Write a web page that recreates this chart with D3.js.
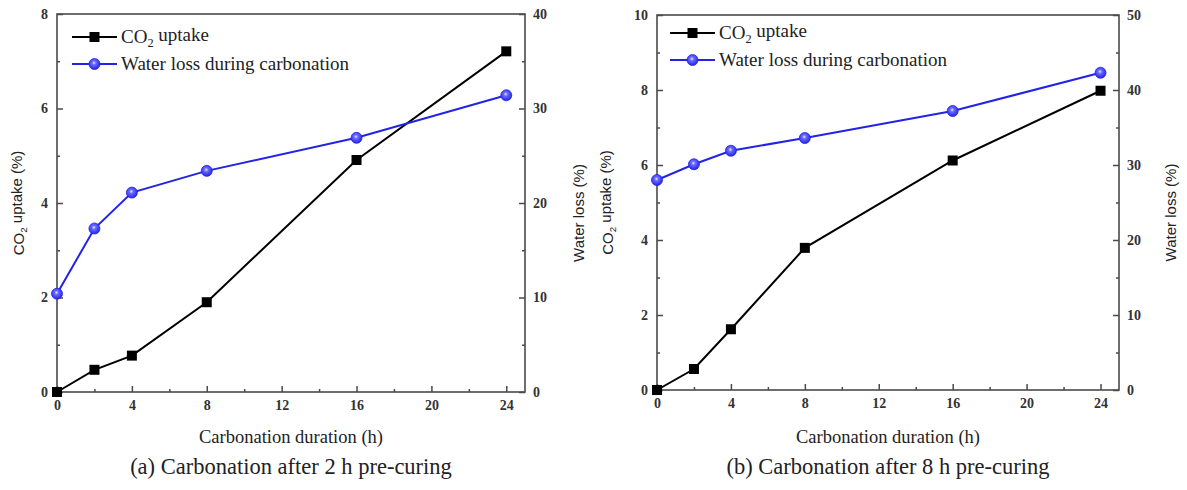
<!DOCTYPE html>
<html>
<head>
<meta charset="utf-8">
<script src="https://cdn.jsdelivr.net/npm/d3@7"></script>
<style>
  html, body { margin: 0; padding: 0; background: #fff; }
  svg { display: block; }
</style>
</head>
<body>
<svg id="chart" width="1187" height="490"></svg>
<script>
// ---------- data ----------
const hours = [0, 2, 4, 8, 16, 24];
const co2UptakeA = [0, 0.47, 0.77, 1.90, 4.91, 7.21];
const waterLossA = [10.4, 17.3, 21.1, 23.4, 26.9, 31.4];
const co2UptakeB = [0, 0.56, 1.62, 3.79, 6.12, 7.98];
const waterLossB = [28.0, 30.1, 31.9, 33.6, 37.2, 42.3];

const xTickValues = [0, 4, 8, 12, 16, 20, 24];
const xMinorTicks = [2, 6, 10, 14, 18, 22];
const leftTicksA = [0, 2, 4, 6, 8];
const leftMinorA = [1, 3, 5, 7];
const rightTicksA = [0, 10, 20, 30, 40];
const rightMinorA = [5, 15, 25, 35];
const leftTicksB = [0, 2, 4, 6, 8, 10];
const leftMinorB = [1, 3, 5, 7, 9];
const rightTicksB = [0, 10, 20, 30, 40, 50];
const rightMinorB = [5, 15, 25, 35, 45];

const captions = ["(a) Carbonation after 2 h pre-curing", "(b) Carbonation after 8 h pre-curing"];
const xTitle = "Carbonation duration (h)";
const legendWater = "Water loss during carbonation";

const BLUE = "#2323e6";
const AXIS = "#4a4a4a";
const SERIF = "'Liberation Serif', 'Times New Roman', serif";
const SANS = "'Liberation Sans', Arial, sans-serif";

const svg = d3.select("#chart");
const defs = svg.append("defs");
const grad = defs.append("radialGradient").attr("id", "ball")
  .attr("cx", "45%").attr("cy", "40%").attr("r", "60%");
grad.append("stop").attr("offset", "0%").attr("stop-color", "#e8e8ff");
grad.append("stop").attr("offset", "30%").attr("stop-color", "#6a6aff");
grad.append("stop").attr("offset", "100%").attr("stop-color", BLUE);

function co2Label(sel, after) {
  sel.append("tspan").text("CO");
  sel.append("tspan").text("2").attr("font-size", "0.65em").attr("dy", "0.3em");
  sel.append("tspan").text(after).attr("dy", "-0.3em");
}

function drawPanel(cfg) {
  const { left, right, top, bottom, leftMax, rightMax, co2, water,
          leftTicks, leftMinor, rightTicks, rightMinor, caption,
          leftTitleX, rightTitleX, legendX, legendY } = cfg;
  const g = svg.append("g");
  const x = d3.scaleLinear().domain([0, 25]).range([left, right]);
  const yL = d3.scaleLinear().domain([0, leftMax]).range([bottom, top]);
  const yR = d3.scaleLinear().domain([0, rightMax]).range([bottom, top]);

  // frame
  g.append("rect").attr("x", left).attr("y", top)
    .attr("width", right - left).attr("height", bottom - top)
    .attr("fill", "none").attr("stroke", AXIS).attr("stroke-width", 1.6);

  const styleAxis = (a) => {
    a.select(".domain").remove();
    a.selectAll("line").attr("stroke", AXIS).attr("stroke-width", 1.5);
    a.selectAll("text").attr("font-family", SERIF).attr("font-size", 14)
      .attr("fill", "#333").attr("font-weight", "bold");
  };

  // x axis
  const xa = g.append("g").attr("transform", `translate(0,${bottom})`)
    .call(d3.axisBottom(x).tickValues(xTickValues).tickSize(-6).tickPadding(8).tickFormat(d3.format("d")));
  styleAxis(xa);
  const xm = g.append("g").attr("transform", `translate(0,${bottom})`)
    .call(d3.axisBottom(x).tickValues(xMinorTicks).tickSize(-3).tickFormat(""));
  styleAxis(xm);

  // left axis
  const la = g.append("g").attr("transform", `translate(${left},0)`)
    .call(d3.axisLeft(yL).tickValues(leftTicks).tickSize(-6).tickPadding(9).tickFormat(d3.format("d")));
  styleAxis(la);
  const lm = g.append("g").attr("transform", `translate(${left},0)`)
    .call(d3.axisLeft(yL).tickValues(leftMinor).tickSize(-3).tickFormat(""));
  styleAxis(lm);

  // right axis
  const ra = g.append("g").attr("transform", `translate(${right},0)`)
    .call(d3.axisRight(yR).tickValues(rightTicks).tickSize(-6).tickPadding(8).tickFormat(d3.format("d")));
  styleAxis(ra);
  const rm = g.append("g").attr("transform", `translate(${right},0)`)
    .call(d3.axisRight(yR).tickValues(rightMinor).tickSize(-3).tickFormat(""));
  styleAxis(rm);

  // axis titles
  const midY = (top + bottom) / 2;
  const lt = g.append("text")
    .attr("transform", `translate(${leftTitleX},${midY}) rotate(-90)`)
    .attr("text-anchor", "middle").attr("font-family", SANS).attr("font-size", 15)
    .attr("fill", "#222");
  co2Label(lt, " uptake (%)");
  g.append("text")
    .attr("transform", `translate(${rightTitleX},${midY + 10}) rotate(-90)`)
    .attr("text-anchor", "middle").attr("font-family", SANS).attr("font-size", 15)
    .attr("fill", "#222").text("Water loss (%)");

  g.append("text").attr("x", (left + right) / 2).attr("y", 443)
    .attr("text-anchor", "middle").attr("font-family", SERIF).attr("font-size", 18.5)
    .attr("fill", "#222").text(xTitle);
  g.append("text").attr("x", (left + right) / 2).attr("y", 474)
    .attr("text-anchor", "middle").attr("font-family", SERIF).attr("font-size", 22.5)
    .attr("fill", "#222").text(caption);

  // lines
  const lineL = d3.line().x((d, i) => x(hours[i])).y(d => yL(d));
  const lineR = d3.line().x((d, i) => x(hours[i])).y(d => yR(d));
  g.append("path").datum(co2).attr("d", lineL).attr("fill", "none")
    .attr("stroke", "#000").attr("stroke-width", 2);
  g.append("path").datum(water).attr("d", lineR).attr("fill", "none")
    .attr("stroke", BLUE).attr("stroke-width", 2);

  g.selectAll(".sq").data(co2).join("rect").attr("class", "sq")
    .attr("x", (d, i) => x(hours[i]) - 5).attr("y", d => yL(d) - 5)
    .attr("width", 10).attr("height", 10).attr("fill", "#000");
  g.selectAll(".ball").data(water).join("circle").attr("class", "ball")
    .attr("cx", (d, i) => x(hours[i])).attr("cy", d => yR(d))
    .attr("r", 5.5).attr("fill", "url(#ball)").attr("stroke", BLUE).attr("stroke-width", 0.8);

  // legend
  const lg = g.append("g");
  const lx0 = legendX, lx1 = legendX + 45, rowH = 27;
  lg.append("line").attr("x1", lx0).attr("x2", lx1).attr("y1", legendY).attr("y2", legendY)
    .attr("stroke", "#000").attr("stroke-width", 2);
  lg.append("rect").attr("x", (lx0 + lx1) / 2 - 5).attr("y", legendY - 5)
    .attr("width", 10).attr("height", 10).attr("fill", "#000");
  const t1 = lg.append("text").attr("x", lx1 + 4).attr("y", legendY + 6)
    .attr("font-family", SERIF).attr("font-size", 19).attr("fill", "#222");
  co2Label(t1, " uptake");
  lg.append("line").attr("x1", lx0).attr("x2", lx1).attr("y1", legendY + rowH).attr("y2", legendY + rowH)
    .attr("stroke", BLUE).attr("stroke-width", 2);
  lg.append("circle").attr("cx", (lx0 + lx1) / 2).attr("cy", legendY + rowH)
    .attr("r", 5.5).attr("fill", "url(#ball)").attr("stroke", BLUE).attr("stroke-width", 0.8);
  lg.append("text").attr("x", lx1 + 4).attr("y", legendY + rowH + 6)
    .attr("font-family", SERIF).attr("font-size", 19).attr("fill", "#222").text(legendWater);
}

drawPanel({
  left: 57, right: 525, top: 14, bottom: 392, leftMax: 8, rightMax: 40,
  co2: co2UptakeA, water: waterLossA,
  leftTicks: leftTicksA, leftMinor: leftMinorA, rightTicks: rightTicksA, rightMinor: rightMinorA,
  caption: captions[0], leftTitleX: 24, rightTitleX: 584, legendX: 72, legendY: 37
});
drawPanel({
  left: 657, right: 1119, top: 15, bottom: 390, leftMax: 10, rightMax: 50,
  co2: co2UptakeB, water: waterLossB,
  leftTicks: leftTicksB, leftMinor: leftMinorB, rightTicks: rightTicksB, rightMinor: rightMinorB,
  caption: captions[1], leftTitleX: 613, rightTitleX: 1176, legendX: 670, legendY: 33
});
</script>
</body>
</html>
